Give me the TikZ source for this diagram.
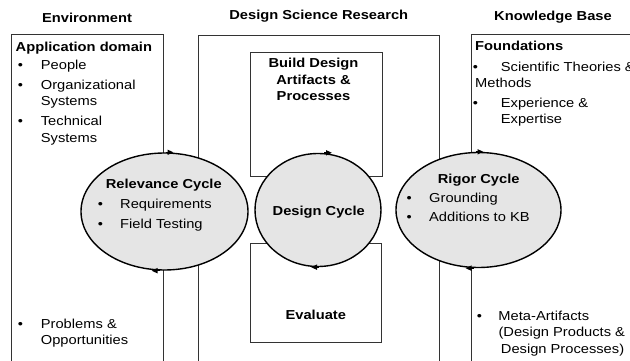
\documentclass[tikz,border=0pt]{standalone}
\usepackage{fontspec}
\setmainfont{Liberation Sans}[FakeStretch=1.13]
\usetikzlibrary{shapes.geometric,arrows.meta}
\newcommand{\bitem}[2][23pt]{\makebox[#1][l]{\textbullet}#2}
\newcommand{\bcont}[2][23pt]{\hspace*{#1}#2}

\begin{document}
\begin{tikzpicture}[x=1pt,y=-1pt,
    box/.style={draw=black!80,line width=0.9pt},
    cycle/.style={ellipse,draw,line width=1.4pt,fill=black!10,inner sep=0pt},
    cycarrow/.style={-{Triangle[length=6pt,width=5pt]},line width=1.4pt},
    head/.style={font=\fontsize{13}{16.5}\selectfont\bfseries,inner sep=0pt,anchor=base},
    txt/.style={font=\fontsize{13}{16.5}\selectfont,align=left,inner sep=0pt,anchor=base west}]
  \useasboundingbox (0,0) rectangle (630,361);
  % columns, open at the bottom
  \draw[box] (11,362) -- (11,34) -- (163,34) -- (163,362);
  \draw[box] (198,362) -- (198,35) -- (439,35) -- (439,362);
  \draw[box] (471,362) -- (471,34) -- (632,34);
  \draw[box] (250,52) rectangle (382,176);
  \draw[box] (250,243) rectangle (381,342);
  % the three cycles
  \node[cycle,minimum width=167,minimum height=117] (rel) at (164.5,211.5) {};
  \node[cycle,minimum width=126,minimum height=113] (des) at (318,210) {};
  \node[cycle,minimum width=165,minimum height=115] (rig) at (478.5,210) {};
  \draw[cycarrow] ([xshift=1pt]rel.north) -- ([xshift=9pt]rel.north);
  \draw[cycarrow] ([xshift=-5pt]rel.south) -- ([xshift=-13pt]rel.south);
  \draw[cycarrow] ([xshift=6pt]des.north) -- ([xshift=14pt]des.north);
  \draw[cycarrow] ([xshift=1pt]des.south) -- ([xshift=-7pt]des.south);
  \draw[cycarrow] ([xshift=-3pt]rig.north) -- ([xshift=5pt]rig.north);
  \draw[cycarrow] ([xshift=-5pt]rig.south) -- ([xshift=-13pt]rig.south);
  % headings
  \node[head] (env) at (87,22.7) {Environment};
  \node[head] (dsr) at (318.8,20) {Design Science Research};
  \node[head] (kb) at (553,20.5) {Knowledge Base};
  % environment (multi-line nodes sit on their last baseline)
  \node[head,anchor=base west] (appdom) at (15.5,51.6) {Application domain};
  \node[txt] (envlist) at (17.7,142.3) {\bitem{People}\\[3.5pt]\bitem{Organizational}\\
    \bcont{Systems}\\[3.5pt]\bitem{Technical}\\\bcont{Systems}};
  \node[txt,font=\fontsize{13}{15.7}\selectfont] (probl) at (17.7,344.3) {\bitem{Problems \&}\\\bcont{Opportunities}};
  % design science research
  \node[head,align=center,font=\fontsize{13}{16.7}\selectfont\bfseries] (build) at (313.5,101) {Build Design\\Artifacts \&\\Processes};
  \node[head] (eval) at (315.8,319.3) {Evaluate};
  \node[head] (descyc) at (318.8,215.3) {Design Cycle};
  % relevance and rigor
  \node[head] (relcyc) at (163.8,188.6) {Relevance Cycle};
  \node[txt] (rellist) at (97.7,228.3) {\bitem[22.3pt]{Requirements}\\[3.2pt]\bitem[22.3pt]{Field Testing}};
  \node[head] (rigcyc) at (478.7,183.3) {Rigor Cycle};
  \node[txt] (riglist) at (406.4,221.6) {\bitem[22.6pt]{Grounding}\\[3.1pt]\bitem[22.6pt]{Additions to KB}};
  % knowledge base
  \node[head,anchor=base west] (found) at (475,51) {Foundations};
  \node[txt,font=\fontsize{13}{16.3}\selectfont] (kblist) at (472.7,123.6) {\bitem[28pt]{Scientific Theories \&}\\
    \hspace*{2.3pt}Methods\\[3.7pt]\bitem[28pt]{Experience \&}\\\bcont[28pt]{Expertise}};
  \node[txt,font=\fontsize{13}{16.6}\selectfont] (meta) at (476.7,353.5) {\bitem[21.6pt]{Meta-Artifacts}\\
    \bcont[21.6pt]{(Design Products \&}\\\bcont[24pt]{Design Processes)}};
\end{tikzpicture}
\end{document}
